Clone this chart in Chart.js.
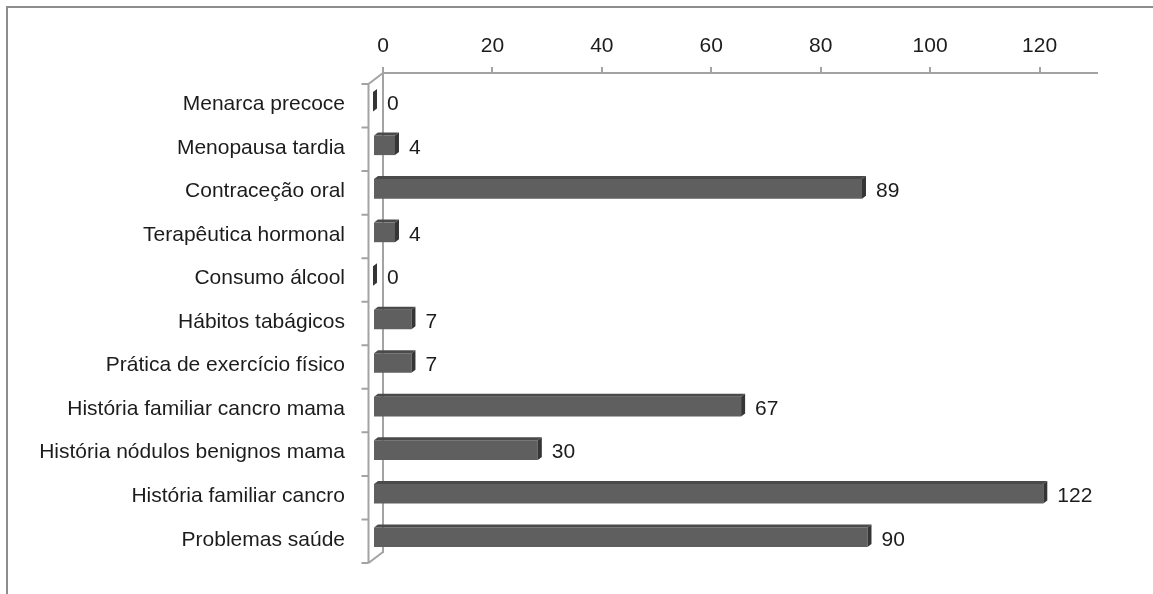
<!DOCTYPE html>
<html>
<head>
<meta charset="utf-8">
<script src="https://cdn.jsdelivr.net/npm/chart.js@4.4.1/dist/chart.umd.min.js"></script>
<style>
  html, body { margin: 0; padding: 0; background: #fff; }
  #wrap { position: relative; width: 1153px; height: 594px; overflow: hidden; }
  #frame { position: absolute; left: 6px; top: 6px; width: 1300px; height: 800px;
           border-left: 2px solid #8d8d8d; border-top: 2px solid #8d8d8d; }
  #c { position: absolute; left: 0; top: 0; }
</style>
</head>
<body>
<div id="wrap">
  <div id="frame"></div>
  <canvas id="c" width="1153" height="594"></canvas>
</div>
<script>
// Risk factors and counts
const categories = [
  'Menarca precoce',
  'Menopausa tardia',
  'Contraceção oral',
  'Terapêutica hormonal',
  'Consumo álcool',
  'Hábitos tabágicos',
  'Prática de exercício físico',
  'História familiar cancro mama',
  'História nódulos benignos mama',
  'História familiar cancro',
  'Problemas saúde'
];
const values = [0, 4, 89, 4, 0, 7, 7, 67, 30, 122, 90];
const axisMin = 0;
const axisMax = 130.5;
const axisStep = 20;

const FONT = '"Liberation Sans", Arial, sans-serif';
const FONT_SIZE = 21;
const TEXT = '#1c1c1c';
const LINE = '#a3a3a3';

// Pseudo-3D: floor wall offset and bar-plane offset
const WALL_DX = -14.5, WALL_DY = 11;
const BAR_X0 = 373, BAR_DY = 7, BAR_K = 1.0042;
const TOP_DX = 4, TOP_DY = 3;
const LABEL_DY = 9.5;

function barTransform(ctx, chart) {
  const x0 = chart.scales.x.getPixelForValue(0);
  ctx.translate(BAR_X0, BAR_DY);
  ctx.scale(BAR_K, 1);
  ctx.translate(-x0, 0);
}

const depthPlugin = {
  id: 'depth',
  beforeDatasetsDraw(chart) {
    const { ctx, chartArea: a, scales } = chart;
    const x0 = scales.x.getPixelForValue(0);
    const n = categories.length;
    const band = (a.bottom - a.top) / n;
    const fx = x0 + WALL_DX;
    ctx.save();
    ctx.strokeStyle = LINE;
    ctx.lineWidth = 2;
    ctx.beginPath();
    ctx.moveTo(fx, a.top + WALL_DY);
    ctx.lineTo(fx, a.bottom + WALL_DY);
    ctx.moveTo(fx, a.top + WALL_DY);
    ctx.lineTo(x0, a.top);
    ctx.moveTo(fx, a.bottom + WALL_DY);
    ctx.lineTo(x0, a.bottom);
    for (let i = 0; i <= n; i++) {
      const y = a.top + i * band + WALL_DY;
      ctx.moveTo(fx - 7, y);
      ctx.lineTo(fx, y);
    }
    ctx.stroke();
    ctx.restore();

    ctx.save();
    barTransform(ctx, chart);
  },
  afterDatasetsDraw(chart) {
    const { ctx } = chart;
    const meta = chart.getDatasetMeta(0);
    meta.data.forEach((el) => {
      const p = el.getProps(['x', 'y', 'base', 'height'], true);
      const yt = p.y - p.height / 2;
      const yb = p.y + p.height / 2;
      const dx = TOP_DX / BAR_K;
      // top face
      ctx.fillStyle = '#4a4a4a';
      ctx.beginPath();
      ctx.moveTo(p.base, yt);
      ctx.lineTo(p.x, yt);
      ctx.lineTo(p.x + dx, yt - TOP_DY);
      ctx.lineTo(p.base + dx, yt - TOP_DY);
      ctx.closePath();
      ctx.fill();
      // end face
      ctx.fillStyle = '#353535';
      ctx.beginPath();
      ctx.moveTo(p.x, yt);
      ctx.lineTo(p.x + dx, yt - TOP_DY);
      ctx.lineTo(p.x + dx, yb - TOP_DY);
      ctx.lineTo(p.x, yb);
      ctx.closePath();
      ctx.fill();
    });
    ctx.restore();

    // value labels
    const x0 = chart.scales.x.getPixelForValue(0);
    ctx.save();
    ctx.font = FONT_SIZE + 'px ' + FONT;
    ctx.fillStyle = TEXT;
    ctx.textAlign = 'left';
    ctx.textBaseline = 'middle';
    meta.data.forEach((el, i) => {
      const fx = BAR_X0 + (el.x - x0) * BAR_K;
      ctx.fillText(String(values[i]), fx + 14, el.y + LABEL_DY);
    });
    ctx.restore();
  }
};

new Chart(document.getElementById('c'), {
  type: 'bar',
  data: {
    labels: categories,
    datasets: [{
      data: values,
      backgroundColor: '#5f5f5f',
      borderWidth: 0,
      barPercentage: 0.45,
      categoryPercentage: 1,
      clip: false
    }]
  },
  options: {
    indexAxis: 'y',
    responsive: false,
    animation: false,
    devicePixelRatio: 1,
    layout: { padding: { top: 0, left: 0, right: 56, bottom: 42 } },
    plugins: { legend: { display: false }, tooltip: { enabled: false } },
    scales: {
      x: {
        position: 'top',
        min: axisMin,
        max: axisMax,
        afterFit(s) { s.height = 73; s.paddingLeft = 0; s.paddingRight = 0; },
        border: { display: true, color: LINE, width: 2 },
        grid: { drawOnChartArea: false, drawTicks: true, tickLength: 6, color: LINE, lineWidth: 2 },
        ticks: {
          stepSize: axisStep,
          includeBounds: false,
          padding: 8,
          color: TEXT,
          font: { family: FONT, size: FONT_SIZE },
          maxRotation: 0
        }
      },
      y: {
        afterFit(s) { s.width = 383; s.paddingTop = 0; s.paddingBottom = 0; },
        border: { display: true, color: LINE, width: 2 },
        grid: { display: false, drawTicks: false, tickLength: 0 },
        ticks: {
          padding: 38,
          labelOffset: LABEL_DY,
          color: TEXT,
          autoSkip: false,
          font: { family: FONT, size: FONT_SIZE }
        }
      }
    }
  },
  plugins: [depthPlugin]
});
</script>
</body>
</html>
